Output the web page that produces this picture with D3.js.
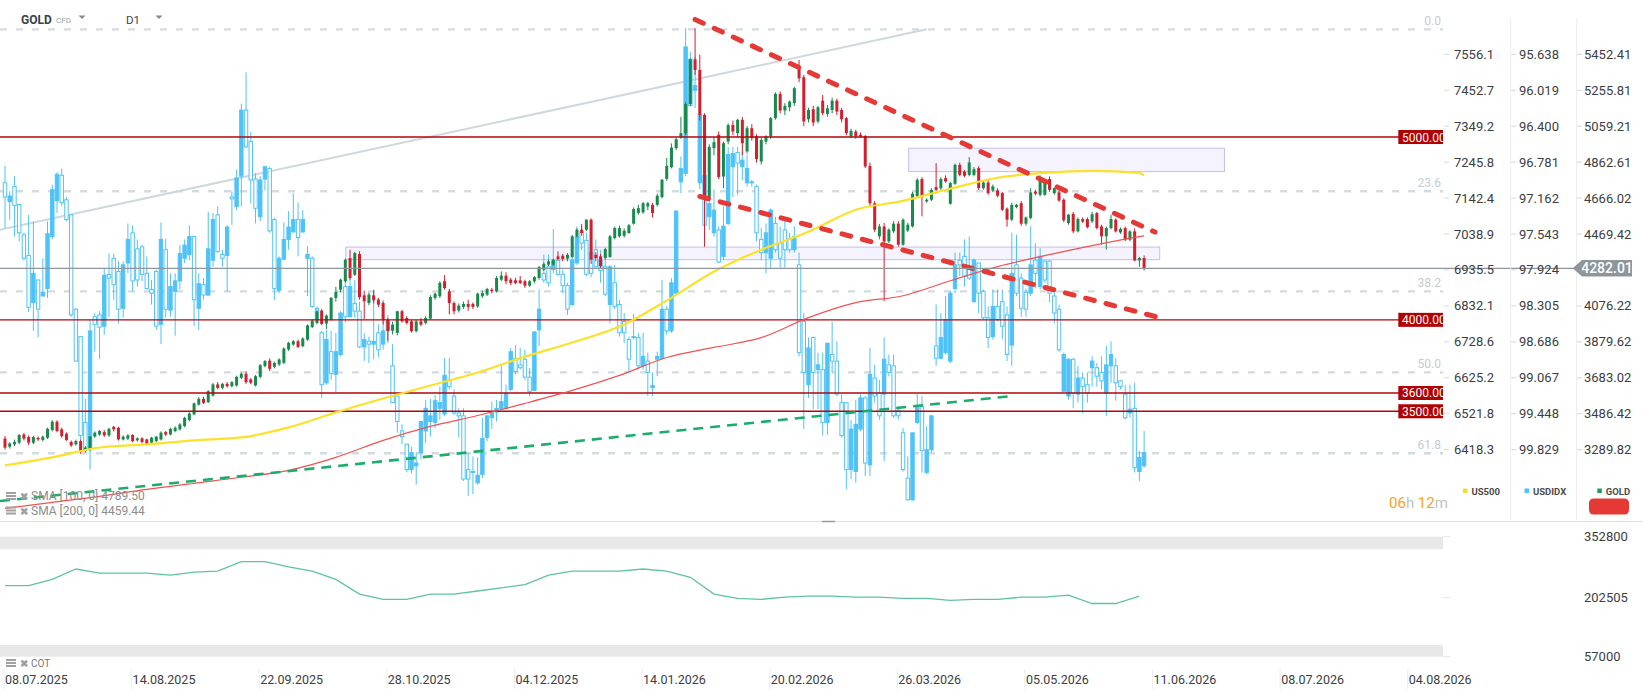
<!DOCTYPE html>
<html>
<head>
<meta charset="utf-8">
<script src="https://cdn.jsdelivr.net/npm/d3@7"></script>
<style>
    body { margin: 0; background: #fff; font-family: Roboto, "Noto Sans", sans-serif; }
    text { font-family: Roboto, "Noto Sans", sans-serif; }
</style>
</head>
<body>
<div id="chart-area"></div>
<script>
// gold D1 with usd index overlay and cot panel

const dateLabels = ["08.07.2025", "14.08.2025", "22.09.2025", "28.10.2025", "04.12.2025", "14.01.2026",
    "20.02.2026", "26.03.2026", "05.05.2026", "11.06.2026", "08.07.2026", "04.08.2026"];
const barsPerLabel = 27;

const goldTicks = [5452.41, 5255.81, 5059.21, 4862.61, 4666.02, 4469.42, 4272.82, 4076.22, 3879.62, 3683.02, 3486.42, 3289.82];
const us500Ticks = [7556.1, 7452.7, 7349.2, 7245.8, 7142.4, 7038.9, 6935.5, 6832.1, 6728.6, 6625.2, 6521.8, 6418.3];
const usdTicks = [95.638, 96.019, 96.400, 96.781, 97.162, 97.543, 97.924, 98.305, 98.686, 99.067, 99.448, 99.829];
const cotTicks = [352800, 202505, 57000];

const goldLast = 4282.01;
const levels = [5000, 4000, 3600, 3500];
const fibLevels = [0, 23.6, 38.2, 50, 61.8];
const fibHigh = 5589, fibLow = 1837;

// gold daily [open, high, low, close]
const gold = [
[3351,3365,3290,3301],[3306,3330,3296,3324],[3319,3345,3310,3333],[3328,3376,3320,3370],[3373,3382,3340,3350],
[3359,3368,3315,3328],[3328,3366,3320,3359],[3355,3362,3338,3346],[3343,3368,3335,3361],[3355,3410,3348,3404],
[3397,3452,3390,3443],[3443,3451,3385,3392],[3401,3410,3355,3364],[3377,3385,3338,3343],[3332,3340,3305,3313],
[3319,3345,3312,3337],[3337,3345,3268,3279],[3282,3310,3275,3301],[3291,3365,3283,3362],[3362,3390,3355,3383],
[3373,3398,3366,3392],[3386,3397,3360,3368],[3368,3409,3360,3404],[3415,3420,3390,3401],[3410,3416,3340,3346],
[3346,3368,3340,3361],[3350,3375,3342,3368],[3370,3375,3330,3337],[3341,3358,3334,3352],[3352,3358,3325,3332],
[3346,3350,3315,3322],[3328,3360,3320,3355],[3337,3366,3330,3361],[3346,3390,3340,3383],[3386,3392,3365,3373],
[3373,3410,3368,3404],[3392,3418,3385,3410],[3401,3435,3395,3428],[3419,3470,3412,3464],[3452,3495,3445,3488],
[3483,3548,3478,3543],[3537,3578,3530,3568],[3568,3580,3540,3546],[3550,3615,3545,3610],[3586,3655,3580,3647],
[3647,3660,3620,3628],[3628,3656,3620,3650],[3650,3660,3630,3637],[3637,3665,3630,3659],[3641,3695,3635,3688],
[3683,3712,3676,3705],[3705,3718,3650,3659],[3674,3682,3648,3656],[3641,3698,3636,3692],[3688,3758,3680,3752],
[3747,3780,3740,3774],[3777,3790,3720,3732],[3743,3772,3735,3765],[3756,3790,3748,3783],[3765,3850,3758,3843],
[3838,3880,3830,3874],[3865,3890,3858,3883],[3883,3892,3845,3852],[3856,3905,3850,3898],[3892,3975,3885,3970],
[3961,4005,3955,3996],[3983,4058,3975,4047],[4051,4058,3970,3978],[3980,4030,3950,4023],[4001,4125,3995,4120],
[4120,4180,4100,4153],[4165,4225,4150,4220],[4211,4335,4205,4329],[4338,4384,4220,4229],[4247,4372,4240,4365],
[4360,4375,4110,4125],[4134,4160,4005,4102],[4092,4150,4080,4138],[4134,4160,4090,4107],[4111,4120,4070,4083],
[4092,4100,3975,4001],[4001,4010,3886,3938],[3940,3990,3920,3974],[3929,4050,3915,4047],[4047,4055,3985,3992],
[4010,4020,3975,3983],[3992,4000,3930,3938],[3938,4000,3932,3992],[3992,4010,3965,3974],[3983,4020,3975,4010],
[4007,4135,4000,4125],[4120,4150,4110,4143],[4129,4212,4120,4202],[4211,4245,4165,4174],[4156,4170,4030,4092],
[4092,4100,4030,4047],[4051,4090,4040,4078],[4071,4100,4060,4087],[4087,4110,4050,4071],[4087,4095,4060,4071],
[4074,4150,4065,4143],[4129,4160,4120,4147],[4138,4175,4130,4169],[4165,4175,4145,4156],[4156,4240,4150,4229],
[4220,4265,4212,4242],[4242,4260,4195,4211],[4220,4230,4190,4202],[4216,4230,4195,4202],[4216,4240,4195,4202],
[4211,4220,4175,4187],[4187,4218,4180,4211],[4211,4240,4200,4234],[4229,4295,4220,4289],[4274,4315,4268,4305],
[4302,4330,4295,4320],[4302,4335,4295,4329],[4347,4375,4325,4333],[4351,4360,4320,4333],[4335,4365,4320,4356],
[4344,4465,4340,4457],[4457,4500,4450,4493],[4493,4525,4460,4475],[4493,4550,4485,4548],[4548,4555,4305,4329],
[4356,4370,4320,4338],[4347,4360,4280,4293],[4338,4395,4330,4387],[4344,4465,4340,4457],[4447,4510,4440,4502],
[4457,4515,4450,4502],[4460,4500,4450,4487],[4475,4525,4470,4517],[4526,4615,4520,4606],[4584,4630,4575,4611],
[4588,4645,4580,4638],[4620,4645,4600,4638],[4629,4640,4560,4584],[4629,4690,4620,4679],[4671,4770,4665,4766],
[4771,4885,4760,4842],[4835,4965,4828,4942],[4939,4995,4930,4988],[5000,5110,4990,5021],[5021,5190,5010,5180],
[5180,5430,5170,5425],[5425,5595,5340,5367],[5367,5450,5090,5121],[5121,5130,4400,4660],[4668,4960,4650,4946],
[4939,5000,4900,4972],[5012,5030,4770,4781],[4784,4975,4720,4966],[4975,5075,4960,5065],[5066,5090,5010,5030],
[5021,5100,5000,5094],[5094,5110,4900,4966],[4921,5060,4910,5048],[5048,5070,4980,4994],[5003,5015,4860,4879],
[4866,4995,4850,4984],[4975,5010,4960,5003],[5003,5110,4990,5103],[5103,5245,5095,5236],[5236,5250,5130,5145],
[5145,5185,5120,5170],[5163,5200,5140,5194],[5185,5275,5170,5267],[5385,5421,5300,5321],[5327,5340,5060,5085],
[5097,5160,5080,5148],[5152,5170,5060,5079],[5085,5170,5075,5163],[5199,5230,5120,5130],[5126,5175,5110,5157],
[5148,5215,5130,5199],[5199,5210,5120,5139],[5148,5160,5080,5097],[5103,5110,5010,5021],[5003,5045,4995,5034],
[5030,5040,4990,5003],[5012,5025,4995,5003],[5006,5010,4830,4839],[4842,4860,4620,4638],[4638,4650,4480,4493],
[4457,4525,4440,4511],[4511,4530,4102,4429],[4429,4500,4420,4493],[4484,4540,4475,4526],[4526,4540,4400,4411],
[4411,4555,4405,4548],[4489,4530,4480,4520],[4511,4700,4505,4690],[4675,4775,4665,4766],[4770,4780,4566,4675],
[4648,4665,4640,4657],[4657,4720,4650,4711],[4726,4857,4705,4711],[4720,4780,4710,4770],[4775,4790,4750,4757],
[4635,4755,4630,4748],[4744,4855,4738,4848],[4848,4860,4785,4793],[4811,4820,4780,4788],[4793,4890,4785,4861],
[4793,4835,4785,4824],[4830,4840,4710,4720],[4720,4760,4712,4751],[4751,4765,4685,4693],[4708,4740,4700,4730],
[4708,4720,4670,4679],[4693,4700,4595,4602],[4608,4615,4510,4548],[4548,4640,4540,4629],[4617,4635,4610,4629],
[4638,4650,4515,4526],[4526,4565,4515,4560],[4557,4720,4550,4697],[4702,4712,4680,4690],[4684,4790,4675,4766],
[4684,4765,4678,4757],[4770,4785,4700,4711],[4693,4725,4685,4720],[4697,4705,4645,4653],[4657,4665,4535,4544],
[4529,4580,4520,4575],[4580,4590,4475,4484],[4484,4560,4478,4551],[4551,4560,4530,4538],[4551,4560,4500,4507],
[4538,4590,4530,4578],[4584,4590,4495,4502],[4511,4520,4411,4457],[4457,4510,4384,4502],[4502,4575,4495,4551],
[4548,4555,4478,4484],[4478,4505,4470,4497],[4502,4510,4430,4438],[4438,4490,4430,4484],[4484,4500,4320,4325],
[4325,4345,4290,4338],[4338,4352,4270,4282.01]
];

// usd index daily [open, high, low, close], plotted on the inverted middle scale
const usdidx = [
[97.00,97.48,96.82,97.15],[97.20,97.39,97.09,97.14],[97.04,97.57,96.93,97.24],[97.23,97.62,97.23,97.53],[97.55,97.82,97.53,97.80],
[97.77,98.37,97.34,98.32],[98.27,98.57,97.41,97.96],[98.03,98.64,98.03,98.34],[98.20,98.20,97.80,98.16],[98.12,98.22,97.41,97.54],
[97.57,97.60,97.02,97.07],[97.19,97.32,96.89,96.91],[96.92,97.25,96.85,97.21],[97.18,97.41,97.15,97.39],[97.34,98.42,97.34,98.40],
[98.34,98.89,98.33,98.89],[98.63,99.77,98.63,99.68],[99.54,99.83,99.29,99.83],[99.82,100.04,98.45,98.57],[98.42,98.79,98.38,98.50],
[98.40,98.87,98.36,98.53],[98.52,98.61,97.90,97.98],[97.97,98.42,97.75,98.01],[97.80,98.24,97.75,98.08],[97.94,98.49,97.83,98.34],
[98.33,98.43,97.83,97.87],[97.85,97.96,97.43,97.60],[97.53,98.15,97.45,98.04],[97.70,98.10,97.60,98.03],[97.68,98.04,97.66,97.97],
[97.96,98.13,97.78,98.12],[98.13,98.29,98.03,98.17],[97.94,98.56,97.92,98.52],[98.50,98.71,97.42,97.60],[97.71,98.43,97.59,98.34],
[98.35,98.42,97.96,98.10],[98.15,98.62,97.96,98.04],[98.04,98.13,97.66,97.75],[97.80,97.85,97.60,97.66],[97.76,97.82,97.45,97.57],
[97.57,98.52,97.57,98.24],[98.33,98.56,97.96,98.07],[98.08,98.24,98.01,98.19],[98.19,98.20,97.31,97.70],[97.82,97.89,97.32,97.39],
[97.34,97.74,97.25,97.73],[97.76,97.89,97.71,97.80],[97.77,98.15,97.45,97.47],[97.15,97.45,97.09,97.17],[97.25,97.29,96.86,96.95],
[96.93,97.25,96.16,96.23],[96.23,96.63,95.83,96.62],[96.56,97.22,96.46,96.97],[96.96,97.43,96.90,97.27],[97.36,97.41,96.93,96.97],
[96.96,97.08,96.82,96.83],[96.85,97.53,96.83,97.51],[97.39,98.24,97.37,98.12],[98.14,98.17,97.78,97.80],[97.81,97.82,97.42,97.60],
[97.60,97.71,97.30,97.47],[97.52,97.53,97.11,97.39],[97.39,97.78,97.21,97.58],[97.52,97.53,97.29,97.39],[97.80,98.20,97.67,97.76],
[97.80,98.33,97.78,98.31],[98.33,98.47,98.31,98.45],[98.59,99.28,98.57,99.14],[99.12,99.14,98.56,98.66],[98.79,99.09,98.57,99.02],
[99.03,99.22,98.59,98.79],[98.82,98.84,98.36,98.38],[98.10,98.48,98.00,98.42],[98.42,98.42,97.96,98.10],[98.28,98.43,98.03,98.36],
[98.36,98.75,98.26,98.74],[98.74,98.89,98.59,98.66],[98.68,98.91,98.63,98.71],[98.71,98.87,98.13,98.68],[98.59,98.85,98.50,98.77],
[98.71,98.77,98.24,98.57],[98.47,98.70,98.40,98.56],[98.94,99.33,98.71,99.33],[99.26,99.65,99.26,99.53],[99.63,99.77,99.56,99.69],
[99.77,100.07,99.77,100.04],[100.04,100.08,99.80,99.86],[100.00,100.20,99.86,99.97],[99.86,99.93,99.53,99.53],[99.63,99.76,99.30,99.39],
[99.53,99.69,99.29,99.47],[99.54,99.60,99.25,99.31],[99.39,99.51,99.16,99.33],[99.45,99.47,98.86,99.04],[99.09,99.19,98.86,99.16],
[99.26,99.46,99.19,99.44],[99.44,99.70,99.39,99.47],[99.47,100.16,99.39,100.14],[100.04,100.32,99.86,100.14],[100.06,100.30,99.90,100.07],
[100.18,100.20,99.91,100.10],[100.09,100.13,99.49,99.71],[99.70,99.74,99.46,99.47],[99.49,99.61,99.32,99.44],[99.43,99.53,99.30,99.39],
[99.39,99.40,98.94,99.32],[99.39,99.40,99.14,99.23],[99.19,99.21,98.75,98.79],[98.86,99.03,98.72,99.00],[98.93,98.98,98.75,98.96],
[98.87,99.09,98.77,99.06],[99.06,99.26,98.96,99.21],[99.20,99.21,98.58,98.58],[98.56,98.73,98.13,98.34],[97.96,98.06,97.76,98.03],
[97.89,98.10,97.76,98.06],[97.92,97.96,97.49,97.83],[97.82,97.99,97.77,97.97],[97.97,98.17,97.92,98.09],[98.09,98.40,98.06,98.34],
[98.29,98.31,97.76,97.82],[97.85,97.87,97.46,97.57],[97.52,97.71,97.46,97.64],[97.61,97.99,97.53,97.97],[97.74,98.00,97.70,97.96],
[97.71,97.90,97.60,97.89],[97.82,98.06,97.71,97.93],[97.89,98.20,97.81,98.18],[98.29,98.49,97.87,97.89],[98.06,98.34,97.87,98.31],
[98.29,98.63,98.24,98.59],[98.47,98.70,98.38,98.59],[98.66,99.00,98.63,98.87],[98.63,98.66,98.39,98.64],[98.64,98.98,98.59,98.94],
[98.94,98.98,98.59,98.84],[98.89,99.26,98.80,99.01],[99.17,99.26,99.01,99.15],[98.87,99.05,98.79,98.84],[98.86,98.87,98.03,98.34],
[98.34,98.61,98.31,98.57],[98.57,98.59,98.01,98.06],[98.17,98.19,97.29,97.30],[96.99,97.11,96.72,96.85],[96.90,96.93,95.36,95.56],
[95.69,96.19,95.61,96.18],[96.02,96.21,95.66,95.97],[97.00,97.07,96.19,96.28],[96.92,97.55,96.90,97.45],[97.36,97.50,97.07,97.22],
[97.53,97.57,97.07,97.29],[97.50,97.85,97.46,97.84],[97.78,97.82,97.25,97.46],[97.43,97.45,96.62,96.70],[96.83,97.15,96.62,96.69],
[96.68,97.13,96.62,96.79],[96.83,96.97,96.67,96.76],[97.00,97.04,96.70,96.85],[96.99,97.04,96.97,97.00],[97.04,97.62,97.02,97.53],
[97.60,97.82,97.48,97.74],[97.74,97.96,97.43,97.53],[97.80,97.90,97.27,97.29],[97.43,97.74,97.36,97.71],[97.64,97.90,97.46,97.80],
[97.50,97.90,97.39,97.71],[97.59,97.74,97.53,97.71],[97.71,97.74,97.46,97.57],[97.87,98.84,97.74,98.80],[98.47,99.61,98.38,99.01],
[99.14,99.28,98.64,98.75],[98.64,99.40,98.63,99.01],[98.98,99.40,98.80,98.93],[98.98,99.68,98.80,99.54],[99.54,99.67,98.70,98.70],
[98.82,99.01,98.47,98.89],[98.89,99.26,98.68,99.24],[99.33,99.70,99.24,99.68],[99.33,100.25,99.33,100.04],[100.04,100.14,99.51,99.61],
[100.06,100.18,99.30,99.56],[99.61,99.63,99.24,99.28],[99.28,100.11,99.26,99.97],[99.99,100.11,98.75,99.03],[99.07,99.33,98.93,99.26],
[99.23,99.51,99.09,99.47],[99.24,99.95,98.64,98.87],[98.93,99.05,98.82,99.01],[98.94,99.49,98.82,99.47],[99.41,99.51,99.37,99.47],
[99.65,100.06,99.60,100.04],[100.13,100.37,99.90,100.36],[100.36,100.37,99.65,99.65],[99.54,99.56,99.24,99.37],[99.37,100.07,99.26,99.84],
[100.07,100.09,99.58,99.83],[99.83,99.86,99.46,99.47],[98.73,98.94,98.29,98.86],[98.86,98.87,98.38,98.64],[98.80,98.82,98.20,98.45],
[98.89,98.91,98.15,98.17],[98.12,98.17,97.74,97.87],[97.82,97.99,97.74,97.87],[97.78,98.10,97.60,97.99],[97.89,98.03,97.57,98.01],
[98.26,98.27,97.80,97.82],[97.85,98.38,97.85,98.17],[98.15,98.45,98.13,98.43],[98.43,98.75,98.31,98.64],[98.63,98.66,98.13,98.31],
[98.31,98.47,98.13,98.45],[98.26,98.66,98.13,98.52],[98.40,98.89,98.31,98.82],[98.72,98.94,97.53,97.96],[97.87,98.20,97.55,98.17],
[98.01,98.42,97.96,98.33],[98.16,98.42,98.12,98.34],[98.17,98.20,97.46,97.87],[97.82,98.12,97.64,97.96],[98.10,98.13,97.69,97.78],
[97.83,98.06,97.82,98.03],[97.83,98.27,97.82,98.17],[98.20,98.49,98.15,98.38],[98.34,98.79,98.29,98.77],[99.21,99.21,98.80,98.82],
[99.26,99.30,98.86,98.87],[98.87,99.39,98.86,99.23],[99.24,99.33,98.94,99.07],[99.07,99.44,99.01,99.16],[99.14,99.33,99.01,99.23],
[98.96,99.16,98.84,98.89],[98.96,99.16,98.91,99.05],[99.01,99.19,98.84,99.10],[99.23,99.47,98.73,98.93],[98.94,99.12,98.68,98.82],
[98.94,99.31,98.86,99.12],[99.10,99.19,99.09,99.16],[99.24,99.51,99.14,99.49],[99.44,99.49,99.14,99.40],[99.39,100.07,99.12,100.02],
[100.06,100.16,99.84,99.91],[100.00,100.02,99.63,99.86]
];

// moving averages read every 10 bars, last value from the legend
const smaStep = 10;
const sma100 = [3204, 3248, 3302, 3319, 3341, 3357, 3412, 3494, 3570, 3641, 3712, 3799, 3876, 3963, 4105, 4264, 4384, 4482, 4602, 4651, 4717, 4777, 4804, 4815, 4804, 4789.50];
const sma200 = [2969, 3002, 3035, 3073, 3106, 3139, 3177, 3248, 3341, 3417, 3477, 3543, 3614, 3696, 3794, 3849, 3903, 4012, 4094, 4132, 4214, 4291, 4351, 4406, 4455, 4459.44];

// drawings: [startBar, startPrice, endBar, endPrice]
const greyTrend = [-1.06, 4493, 195, 5589];
const greenTrend = [-1.06, 3009, 212.6, 3582.5];
const redUpper = [146, 5643, 243.3, 4480];
const redLower = [147, 4675, 244.4, 4011];
// zones: [startBar, endBar, top, bottom]
const zones = [[72.1, 244.3, 4398, 4329], [191.2, 258, 4939, 4811]];

// weekly cot, one value every 5 bars
const cotStep = 5;
const cot = [232010, 232010, 247550, 273180, 263100, 263100, 263100, 257900, 265510, 268000,
    291420, 291420, 278360, 268000, 247550, 211300, 198490, 198490, 211300, 211300,
    218920, 226840, 234480, 257900, 268000, 268000, 268000, 273180, 268000, 252730,
    211300, 200960, 198490, 203670, 206130, 206130, 203670, 203670, 200960, 200960,
    195780, 198490, 198490, 203670, 203670, 208600, 188120, 188120, 206130];
const cotBands = [[352800, 322000], [85800, 57000]];

const legendItems = [["US500", "#fdd835"], ["USDIDX", "#4fc3f7"], ["GOLD", "#1f9d55"]];

let width = 1643, height = 696;
let plotRight = 1443;

let svg = d3.select("#chart-area").append("svg")
    .attr("width", width)
    .attr("height", height);

let defs = svg.append("defs");
defs.append("clipPath").attr("id", "main-clip")
    .append("rect").attr("x", 0).attr("y", 0).attr("width", plotRight).attr("height", 518);

// Scales
let x = d3.scaleLinear().domain([0, 297]).range([5, 1408.8]);
let yGold = d3.scaleLinear().domain([goldTicks[0], goldTicks[goldTicks.length - 1]]).range([54.3, 449.7]);
let yUs500 = d3.scaleLinear().domain([us500Ticks[0], us500Ticks[us500Ticks.length - 1]]).range([54.3, 449.7]);
let yUsd = d3.scaleLinear().domain([usdTicks[0], usdTicks[usdTicks.length - 1]]).range([54.3, 449.7]);
let yCot = d3.scaleLinear().domain([cotTicks[0], cotTicks[cotTicks.length - 1]]).range([536.7, 656.7]);

let green = "#178a4c", red = "#d21f2e", blue = "#4fc3f7";

let main = svg.append("g").attr("clip-path", "url(#main-clip)");

// fibo levels
let fibPrice = f => fibHigh - (fibHigh - fibLow) * f / 100;
main.selectAll(".fib").data(fibLevels).enter().append("line")
    .attr("class", "fib")
    .attr("x1", 0).attr("x2", plotRight)
    .attr("y1", d => yGold(fibPrice(d))).attr("y2", d => yGold(fibPrice(d)))
    .attr("stroke", "#d3dbdf").attr("stroke-width", 2.4).attr("stroke-dasharray", "7,9");

// zones
main.selectAll(".zone").data(zones).enter().append("rect")
    .attr("class", "zone")
    .attr("x", d => x(d[0])).attr("width", d => x(d[1]) - x(d[0]))
    .attr("y", d => yGold(d[2])).attr("height", d => yGold(d[3]) - yGold(d[2]))
    .attr("fill", "#f5f3fd").attr("stroke", "#c8bde8").attr("stroke-width", 1);

let seg = (g, d, color, w, dash) => g.append("line")
    .attr("x1", x(d[0])).attr("y1", yGold(d[1]))
    .attr("x2", x(d[2])).attr("y2", yGold(d[3]))
    .attr("stroke", color).attr("stroke-width", w)
    .attr("stroke-dasharray", dash);

seg(main, greyTrend, "#cfd8dc", 2, null);

// usd index candles
let usdG = main.append("g");
usdG.selectAll("line").data(usdidx).enter().append("line")
    .attr("x1", (d, i) => x(i)).attr("x2", (d, i) => x(i))
    .attr("y1", d => yUsd(d[1])).attr("y2", d => yUsd(d[2]))
    .attr("stroke", blue).attr("stroke-width", 1);
usdG.selectAll("rect").data(usdidx).enter().append("rect")
    .attr("x", (d, i) => x(i) - 1.7).attr("width", 3.4)
    .attr("y", d => yUsd(Math.min(d[0], d[3])))
    .attr("height", d => Math.max(1, Math.abs(yUsd(d[0]) - yUsd(d[3]))))
    .attr("fill", d => d[3] > d[0] ? "#fff" : blue)
    .attr("stroke", blue).attr("stroke-width", 1);

// gold candles
let goldG = main.append("g");
goldG.selectAll("line").data(gold).enter().append("line")
    .attr("x1", (d, i) => x(i)).attr("x2", (d, i) => x(i))
    .attr("y1", d => yGold(d[1])).attr("y2", d => yGold(d[2]))
    .attr("stroke", d => d[3] >= d[0] ? green : red).attr("stroke-width", 1);
goldG.selectAll("rect").data(gold).enter().append("rect")
    .attr("x", (d, i) => x(i) - 1.5).attr("width", 3)
    .attr("y", d => yGold(Math.max(d[0], d[3])))
    .attr("height", d => Math.max(1, Math.abs(yGold(d[0]) - yGold(d[3]))))
    .attr("fill", d => d[3] >= d[0] ? green : red);

// horizontal levels
let lv = main.selectAll(".level").data(levels).enter().append("g").attr("class", "level");
lv.append("line")
    .attr("x1", 0).attr("x2", 1399)
    .attr("y1", d => yGold(d)).attr("y2", d => yGold(d))
    .attr("stroke", "#b3060c").attr("stroke-width", 1.4);
lv.append("line")
    .attr("x1", 1399).attr("x2", 1399)
    .attr("y1", d => yGold(d) - 7).attr("y2", d => yGold(d) + 7)
    .attr("stroke", "#b3060c").attr("stroke-width", 1.4);
lv.append("rect")
    .attr("x", 1399).attr("width", 50)
    .attr("y", d => yGold(d) - 7).attr("height", 14)
    .attr("fill", "#b30000");
lv.append("text")
    .attr("x", 1402).attr("y", d => yGold(d) + 4.5)
    .attr("fill", "#fff").attr("font-size", 12)
    .text(d => d.toFixed(2));

// moving averages
let smaLine = d3.line()
    .x((d, i, arr) => x(i === arr.length - 1 ? gold.length - 1 : i * smaStep))
    .y(d => yGold(d))
    .curve(d3.curveMonotoneX);
main.append("path").datum(sma200).attr("d", smaLine)
    .attr("fill", "none").attr("stroke", "#ef5350").attr("stroke-width", 1.2);
main.append("path").datum(sma100).attr("d", smaLine)
    .attr("fill", "none").attr("stroke", "#fbe12a").attr("stroke-width", 2.2);

seg(main, greenTrend, "#1aad6b", 2.6, "10,7");
seg(main, redUpper, "#e53935", 5, "9,12").attr("stroke-linecap", "round");
seg(main, redLower, "#e53935", 5, "9,12").attr("stroke-linecap", "round");

// fibo labels
main.selectAll(".fib-label").data(fibLevels).enter().append("text")
    .attr("x", 1441).attr("y", d => yGold(fibPrice(d)) - 4)
    .attr("text-anchor", "end").attr("fill", "#c5cdd1").attr("font-size", 12)
    .text(d => d.toFixed(1));

// last price line and tag
let yLast = yGold(goldLast);
svg.append("line")
    .attr("x1", 0).attr("x2", 1574).attr("y1", yLast).attr("y2", yLast)
    .attr("stroke", "#8c969b").attr("stroke-width", 1.3);

// right axes
let cols = [
    {ticks: us500Ticks, y: yUs500, fmt: d => d.toFixed(1), tx: 1444, lx: 1454},
    {ticks: usdTicks, y: yUsd, fmt: d => d.toFixed(3), tx: 1511, lx: 1519},
    {ticks: goldTicks, y: yGold, fmt: d => d.toFixed(2), tx: 1577, lx: 1584}
];
cols.forEach(c => {
    let g = svg.append("g");
    g.selectAll("line").data(c.ticks).enter().append("line")
        .attr("x1", c.tx).attr("x2", c.tx + 5)
        .attr("y1", d => c.y(d)).attr("y2", d => c.y(d))
        .attr("stroke", "#d8d8d8");
    g.selectAll("text").data(c.ticks).enter().append("text")
        .attr("x", c.lx).attr("y", d => c.y(d) + 4.5)
        .attr("fill", "#3c4043").attr("font-size", 13)
        .text(c.fmt);
});

[1510.7, 1576.7].forEach(v => svg.append("line")
    .attr("x1", v).attr("x2", v).attr("y1", 18).attr("y2", 520)
    .attr("stroke", "#ececec"));

svg.append("path")
    .attr("d", d3.line()([[1572.7, yLast], [1582, yLast - 8.3], [1632, yLast - 8.3], [1632, yLast + 8.3], [1582, yLast + 8.3]]) + "Z")
    .attr("fill", "#8c969b");
svg.append("text")
    .attr("x", 1607).attr("y", yLast + 5).attr("text-anchor", "middle")
    .attr("fill", "#fff").attr("font-size", 14).attr("font-weight", 500)
    .text(goldLast.toFixed(2));

// header
svg.append("text").attr("x", 21).attr("y", 24).attr("font-size", 12).attr("font-weight", 700)
    .attr("fill", "#37414b").text("GOLD");
svg.append("text").attr("x", 56).attr("y", 23).attr("font-size", 8).attr("fill", "#9aa0a6").text("CFD");
svg.append("text").attr("x", 126).attr("y", 23.5).attr("font-size", 11.5).attr("fill", "#444").text("D1");
[82, 159].forEach(v => svg.append("path")
    .attr("d", d3.line()([[v - 3.5, 15.5], [v + 3.5, 15.5], [v, 19]]) + "Z")
    .attr("fill", "#888"));

// legend icons helper
let icon = (y0) => {
    let g = svg.append("g").attr("fill", "#a0a0a0");
    [0, 3, 6].forEach(k => g.append("rect").attr("x", 6).attr("y", y0 - 8 + k).attr("width", 10).attr("height", 2));
    g.append("text").attr("x", 20).attr("y", y0).attr("font-size", 10).attr("font-weight", 700).text("\u2716");
};

// sma legend
[["SMA [100, 0] ", sma100[sma100.length - 1]], ["SMA [200, 0] ", sma200[sma200.length - 1]]].forEach((d, k) => {
    let yy = 500 + k * 14.5;
    icon(yy);
    svg.append("text").attr("x", 31).attr("y", yy).attr("font-size", 12).attr("fill", "#8d8d8d")
        .text(d[0] + d[1].toFixed(2));
});

// countdown
let cd = svg.append("text").attr("x", 1389).attr("y", 508).attr("font-size", 15);
cd.append("tspan").attr("fill", "#f7a21b").text("06");
cd.append("tspan").attr("fill", "#c4c4c4").text("h ");
cd.append("tspan").attr("fill", "#f7a21b").text("12");
cd.append("tspan").attr("fill", "#c4c4c4").text("m");

// series legend
let legX = [1463, 1524.5, 1597.3];
legendItems.forEach((d, k) => {
    svg.append("rect").attr("x", legX[k]).attr("y", 488.5).attr("width", 4.5).attr("height", 4.5).attr("fill", d[1]);
    svg.append("text").attr("x", legX[k] + 8.5).attr("y", 494.5).attr("font-size", 9.5).attr("font-weight", 700)
        .attr("fill", "#4a4a4a").text(d[0]);
});
svg.append("rect").attr("x", 1589).attr("y", 498.5).attr("width", 40).attr("height", 16).attr("rx", 4.5)
    .attr("fill", "#e53935");

// panel separator
svg.append("line").attr("x1", 0).attr("x2", width).attr("y1", 521.5).attr("y2", 521.5)
    .attr("stroke", "#dedede").attr("stroke-width", 1.2);
svg.append("line").attr("x1", 822).attr("x2", 835).attr("y1", 521.5).attr("y2", 521.5)
    .attr("stroke", "#9a9a9a").attr("stroke-width", 1.5);

// cot panel
svg.selectAll(".cot-band").data(cotBands).enter().append("rect")
    .attr("x", 0).attr("width", plotRight)
    .attr("y", d => yCot(d[0])).attr("height", d => yCot(d[1]) - yCot(d[0]))
    .attr("fill", "#e8e8e8");

svg.append("path").datum(cot)
    .attr("d", d3.line().x((d, i) => x(i * cotStep)).y(d => yCot(d)))
    .attr("fill", "none").attr("stroke", "#5ec49c").attr("stroke-width", 1.3);

let cotAxis = svg.append("g");
cotAxis.selectAll("line").data(cotTicks).enter().append("line")
    .attr("x1", plotRight).attr("x2", plotRight + 7)
    .attr("y1", d => yCot(d)).attr("y2", d => yCot(d))
    .attr("stroke", "#e6e6e6");
cotAxis.selectAll("text").data(cotTicks).enter().append("text")
    .attr("x", 1584).attr("y", d => yCot(d) + 4.5)
    .attr("fill", "#3c4043").attr("font-size", 13)
    .text(d => d);

icon(667);
svg.append("text").attr("x", 31).attr("y", 667).attr("font-size", 10).attr("fill", "#777").text("COT");

// x axis
let xAxis = svg.append("g");
xAxis.selectAll("line").data(dateLabels).enter().append("line")
    .attr("x1", (d, i) => x(i * barsPerLabel) - 1).attr("x2", (d, i) => x(i * barsPerLabel) - 1)
    .attr("y1", 669).attr("y2", 689)
    .attr("stroke", "#ececec");
xAxis.selectAll("text").data(dateLabels).enter().append("text")
    .attr("x", (d, i) => x(i * barsPerLabel)).attr("y", 684)
    .attr("fill", "#3c4043").attr("font-size", 12.5)
    .text(d => d);
</script>
</body>
</html>
